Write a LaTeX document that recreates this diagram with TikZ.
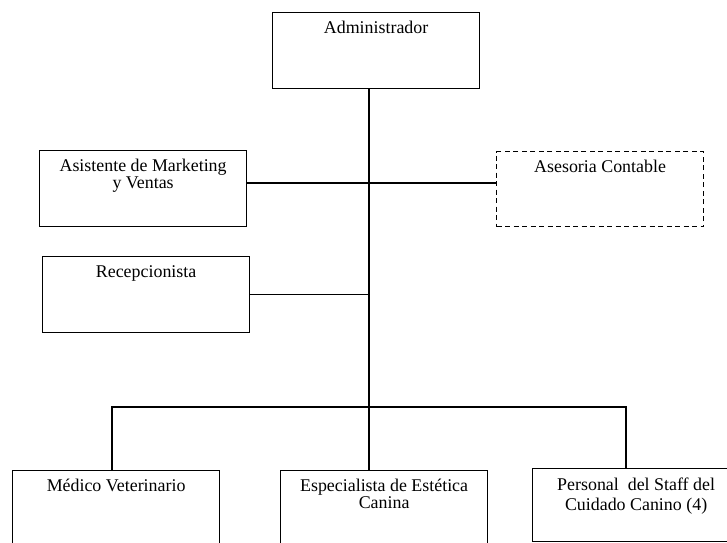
\documentclass[tikz,border=0pt]{standalone}
\usepackage{fontspec}
\setmainfont{Liberation Serif}
\begin{document}
\begin{tikzpicture}[x=1bp,y=-1bp,
  box/.style={draw=black, line width=1.2bp, minimum width=207bp, minimum height=76bp,
    inner sep=0pt, anchor=north west},
  dashbox/.style={box, dash pattern=on 5bp off 3.5bp},
  cap/.style={label={[anchor=north, yshift=-9bp, align=center, inner sep=0pt,
    font=\fontsize{17.9bp}{16.5bp}\selectfont]north:#1}},
  wire/.style={draw=black, line width=1.1bp},
  ]
\useasboundingbox (0,0) rectangle (727,543);

% boxes of the chart
\node[box, cap=Administrador] (adm) at (272,12) {};
\node[box, cap={Asistente de Marketing\\y Ventas}] (mkt) at (39,150) {};
\node[dashbox, cap=Asesoria Contable, minimum height=75bp] (ase) at (496,151) {};
\node[box, cap=Recepcionista] (rec) at (42,256) {};
\node[box, cap=Médico Veterinario] (med) at (12,470) {};
\node[box, cap={Especialista de Estética\\Canina}] (esp) at (280,470) {};
\node[box, minimum height=73bp,
  label={[anchor=north, yshift=-10bp, align=center, inner sep=0pt,
    font=\fontsize{17.9bp}{20bp}\selectfont]north:{Personal~ del Staff del\\Cuidado Canino (4)}}]
  (per) at (532,468) {};

% junction points of the connectors
\coordinate (jm) at (369,183);
\coordinate (bl) at (112,407);
\coordinate (br) at (626,407);

% connectors
\draw[wire] (adm.south -| jm) -- (esp.north -| jm);
\draw[wire] (mkt.east |- jm) -- (ase.west |- jm);
\draw[wire] (rec.east) -- (rec.east -| jm);
\draw[wire] (med.north -| bl) -- (bl) -- (br) -- (per.north -| br);
\end{tikzpicture}
\end{document}
